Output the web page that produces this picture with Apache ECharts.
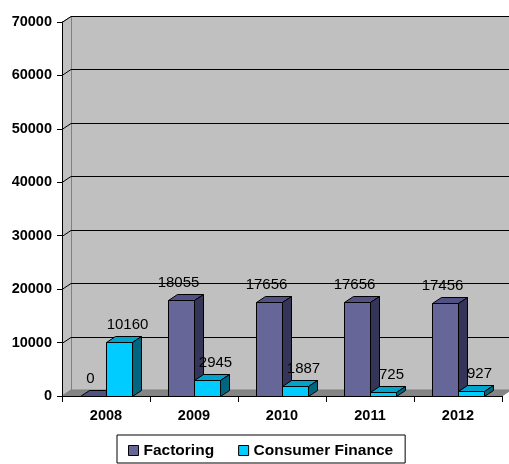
<!DOCTYPE html>
<html><head><meta charset="utf-8">
<script src="https://cdn.jsdelivr.net/npm/echarts@6/dist/echarts.min.js"></script>
<style>html,body{margin:0;padding:0;background:#fff}#c{width:509px;height:464px}</style>
</head><body><div id="c"></div><script>
const years = ['2008', '2009', '2010', '2011', '2012'];
const factoring = [0, 18055, 17656, 17656, 17456];
const consumerFinance = [10160, 2945, 1887, 725, 927];
const yTicks = [0, 10000, 20000, 30000, 40000, 50000, 60000, 70000];

const DX = 9, DY = -6, BW = 26;
const FONT = '"Liberation Sans", Arial, sans-serif';

const chart = echarts.init(document.getElementById('c'), null, {renderer: 'canvas'});

function px(v) { return Math.round(v) + 0.5; }

function renderWalls(params, api) {
  const cs = params.coordSys;
  const x = cs.x, y = cs.y, w = cs.width, h = cs.height;
  const yb = y + h;
  const ch = [];
  ch.push({type: 'rect', shape: {x: x + DX + 0.5, y: y + DY + 0.5, width: w + 20, height: h},
    style: {fill: '#c0c0c0', stroke: '#808080', lineWidth: 1}});
  ch.push({type: 'polygon', shape: {points: [[x + 0.5, y], [x + DX + 0.5, y + DY + 0.5], [x + DX + 0.5, yb + DY + 0.5], [x + 0.5, yb]]},
    style: {fill: '#c0c0c0', stroke: '#808080', lineWidth: 1}});
  ch.push({type: 'polygon', shape: {points: [[x, yb], [x + DX, yb + DY], [x + w + DX, yb + DY], [x + w, yb]]},
    style: {fill: '#858585', stroke: '#808080', lineWidth: 1}});
  yTicks.forEach(function (v) {
    if (v === 0) return;
    const yy = px(api.coord([0, v])[1]);
    ch.push({type: 'polyline', shape: {points: [[x, yy], [x + DX, yy + DY], [x + w + DX + 20, yy + DY]]},
      style: {stroke: '#000', lineWidth: 1, fill: null}});
  });
  return {type: 'group', children: ch};
}

function makeBarRenderer(offset, cFront, cTop, cSide, labelDx) {
  return function (params, api) {
    const idx = api.value(0);
    const val = api.value(1);
    const p0 = api.coord([idx, 0]);
    const p1 = api.coord([idx, val]);
    const x0 = Math.round(p0[0] + offset - BW / 2) + 0.5;
    const x1 = x0 + BW;
    const yb = Math.round(p0[1]) + 0.5;
    const yt = Math.round(p1[1]) + 0.5;
    const st = {stroke: '#000', lineWidth: 1};
    return {type: 'group', children: [
      {type: 'rect', shape: {x: x0, y: yt, width: BW, height: yb - yt}, style: Object.assign({fill: cFront}, st)},
      {type: 'polygon', shape: {points: [[x0, yt], [x1, yt], [x1 + DX, yt + DY], [x0 + DX, yt + DY]]}, style: Object.assign({fill: cTop}, st)},
      {type: 'polygon', shape: {points: [[x1, yt], [x1 + DX, yt + DY], [x1 + DX, yb + DY], [x1, yb]]}, style: Object.assign({fill: cSide}, st)},
      {type: 'text', style: {text: String(val), x: (x0 + x1) / 2 + labelDx, y: yt - 18,
        align: 'center', verticalAlign: 'middle', fill: '#000', font: '15px ' + FONT}}
    ]};
  };
}

const option = {
  animation: false,
  backgroundColor: '#fff',
  grid: {left: 62, right: 7, top: 22, bottom: 68, containLabel: false},
  legend: {
    data: [
      {name: 'Factoring', itemStyle: {color: '#666699', borderColor: '#000', borderWidth: 1}},
      {name: 'Consumer Finance', itemStyle: {color: '#00ccff', borderColor: '#000', borderWidth: 1}}
    ],
    left: 117, top: 435, padding: [7, 12, 4, 11], itemGap: 24, itemWidth: 10, itemHeight: 10,
    borderColor: '#000', borderWidth: 1, icon: 'rect',
    textStyle: {fontFamily: FONT, fontWeight: 'bold', fontSize: 15.5, color: '#000', lineHeight: 17}
  },
  xAxis: {
    type: 'category', data: years, boundaryGap: true, z: 5,
    axisLine: {show: true, lineStyle: {color: '#000', width: 1}},
    axisTick: {show: true, length: 6, lineStyle: {color: '#000'}},
    axisLabel: {margin: 12, color: '#000', fontFamily: FONT, fontWeight: 'bold', fontSize: 14.5},
    splitLine: {show: false}
  },
  yAxis: {
    type: 'value', min: 0, max: 70000, interval: 10000, z: 5,
    axisLine: {show: true, lineStyle: {color: '#000', width: 1}},
    axisTick: {show: true, length: 5, lineStyle: {color: '#000'}},
    axisLabel: {margin: 10, color: '#000', fontFamily: FONT, fontWeight: 'bold', fontSize: 14.5,
      formatter: function (v) { return String(v); }},
    splitLine: {show: false}
  },
  series: [
    {type: 'custom', name: 'walls', silent: true, z: 0, renderItem: renderWalls, data: [[0, 0]]},
    {type: 'custom', name: 'Factoring', z: 2, color: '#666699',
      renderItem: makeBarRenderer(-BW / 2, '#666699', '#515183', '#35355a', -3),
      data: factoring.map(function (v, i) { return [i, v]; })},
    {type: 'custom', name: 'Consumer Finance', z: 3, color: '#00ccff',
      renderItem: makeBarRenderer(BW / 2, '#00ccff', '#00a3cc', '#006680', 8),
      data: consumerFinance.map(function (v, i) { return [i, v]; })}
  ]
};
chart.setOption(option);
</script></body></html>
